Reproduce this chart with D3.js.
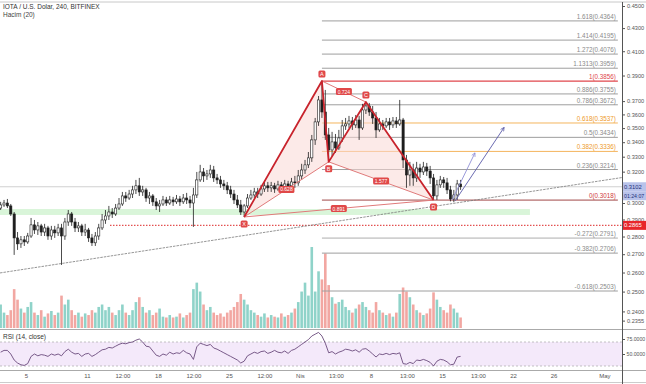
<!DOCTYPE html>
<html><head><meta charset="utf-8">
<script src="https://cdn.jsdelivr.net/npm/d3@7"></script>
<style>body{margin:0;background:#fff}svg{display:block;font-family:"Liberation Sans",Arial,sans-serif}</style>
</head><body><svg id="c" width="646" height="384"></svg>
<script>
// ---------- DATA ----------
const candleStart = "2019-03-02T12:00Z"; // 8h candles
const opens = [0.2969,0.2988,0.3000,0.2982,0.2933,0.2792,0.2758,0.2781,0.2769,0.2803,0.2868,0.2838,0.2862,0.2826,0.2850,0.2803,0.2838,0.2821,0.2850,0.2803,0.2885,0.2933,0.2885,0.2850,0.2862,0.2826,0.2838,0.2792,0.2764,0.2803,0.2850,0.2897,0.2921,0.2945,0.2933,0.2969,0.2994,0.3044,0.3031,0.3056,0.3082,0.3108,0.3069,0.3082,0.3031,0.3044,0.3007,0.2982,0.2994,0.3019,0.3000,0.3019,0.3007,0.3025,0.3007,0.3031,0.3019,0.3000,0.3050,0.3146,0.3198,0.3172,0.3185,0.3211,0.3159,0.3146,0.3120,0.3108,0.3082,0.3056,0.3019,0.2988,0.2945,0.2982,0.3031,0.3050,0.3069,0.3056,0.3088,0.3108,0.3095,0.3108,0.3088,0.3114,0.3095,0.3120,0.3108,0.3133,0.3127,0.3172,0.3211,0.3245,0.3292,0.3416,0.3545,0.3709,0.3618,0.3451,0.3346,0.3402,0.3360,0.3430,0.3516,0.3530,0.3552,0.3523,0.3559,0.3501,0.3633,0.3663,0.3618,0.3574,0.3487,0.3530,0.3516,0.3545,0.3523,0.3552,0.3530,0.3559,0.3278,0.3178,0.3211,0.3159,0.3224,0.3198,0.3231,0.3204,0.3159,0.3044,0.3114,0.3146,0.3127,0.3082,0.3025,0.3050,0.3120];
const highs = [0.3007,0.3019,0.3025,0.2994,0.2945,0.2826,0.2803,0.2803,0.2821,0.2909,0.2897,0.2885,0.2874,0.2874,0.2862,0.2862,0.2862,0.2874,0.2874,0.2909,0.2957,0.2945,0.2909,0.2885,0.2874,0.2874,0.2850,0.2815,0.2826,0.2874,0.2933,0.2957,0.2982,0.2969,0.2994,0.3031,0.3069,0.3069,0.3082,0.3108,0.3146,0.3159,0.3108,0.3095,0.3069,0.3056,0.3031,0.3019,0.3044,0.3038,0.3044,0.3038,0.3050,0.3044,0.3056,0.3063,0.3044,0.3095,0.3198,0.3245,0.3224,0.3211,0.3245,0.3238,0.3185,0.3172,0.3146,0.3133,0.3108,0.3082,0.3050,0.3019,0.2994,0.3056,0.3082,0.3095,0.3095,0.3114,0.3133,0.3133,0.3133,0.3127,0.3140,0.3133,0.3146,0.3140,0.3159,0.3172,0.3211,0.3252,0.3278,0.3332,0.3451,0.3574,0.3739,0.3841,0.3786,0.3501,0.3473,0.3458,0.3487,0.3559,0.3574,0.3589,0.3581,0.3596,0.3589,0.3679,0.3694,0.3686,0.3663,0.3618,0.3574,0.3559,0.3574,0.3574,0.3581,0.3581,0.3709,0.3574,0.3312,0.3265,0.3252,0.3265,0.3252,0.3265,0.3258,0.3238,0.3185,0.3146,0.3172,0.3165,0.3159,0.3108,0.3082,0.3146,0.3146];
const lows = [0.2957,0.2976,0.2969,0.2921,0.2696,0.2724,0.2735,0.2746,0.2758,0.2792,0.2815,0.2809,0.2803,0.2803,0.2781,0.2781,0.2792,0.2803,0.2641,0.2781,0.2862,0.2862,0.2826,0.2826,0.2803,0.2803,0.2769,0.2746,0.2746,0.2781,0.2838,0.2874,0.2897,0.2909,0.2921,0.2957,0.2982,0.3007,0.3019,0.3031,0.3056,0.3044,0.3044,0.3007,0.2994,0.2982,0.2957,0.2945,0.2982,0.2982,0.2988,0.2982,0.2994,0.2982,0.2994,0.2994,0.2969,0.2856,0.3031,0.3133,0.3133,0.3146,0.3159,0.3133,0.3120,0.3095,0.3082,0.3056,0.3031,0.2994,0.2969,0.2927,0.2915,0.2969,0.3019,0.3031,0.3031,0.3044,0.3069,0.3069,0.3069,0.3063,0.3076,0.3069,0.3082,0.3082,0.3095,0.3095,0.3108,0.3146,0.3185,0.3224,0.3265,0.3381,0.3516,0.3574,0.3416,0.3265,0.3305,0.3326,0.3346,0.3402,0.3487,0.3501,0.3487,0.3501,0.3416,0.3487,0.3603,0.3589,0.3530,0.3430,0.3473,0.3487,0.3501,0.3487,0.3501,0.3501,0.3516,0.3224,0.3095,0.3108,0.3108,0.3133,0.3159,0.3178,0.3172,0.3120,0.3018,0.3019,0.3095,0.3095,0.3056,0.3010,0.3005,0.3019,0.3082];
const closes = [0.2988,0.3000,0.2982,0.2933,0.2792,0.2758,0.2781,0.2769,0.2803,0.2868,0.2838,0.2862,0.2826,0.2850,0.2803,0.2838,0.2821,0.2850,0.2803,0.2885,0.2933,0.2885,0.2850,0.2862,0.2826,0.2838,0.2792,0.2764,0.2803,0.2850,0.2897,0.2921,0.2945,0.2933,0.2969,0.2994,0.3044,0.3031,0.3056,0.3082,0.3108,0.3069,0.3082,0.3031,0.3044,0.3007,0.2982,0.2994,0.3019,0.3000,0.3019,0.3007,0.3025,0.3007,0.3031,0.3019,0.3000,0.3050,0.3146,0.3198,0.3172,0.3185,0.3211,0.3159,0.3146,0.3120,0.3108,0.3082,0.3056,0.3019,0.2988,0.2945,0.2982,0.3031,0.3050,0.3069,0.3056,0.3088,0.3108,0.3095,0.3108,0.3088,0.3114,0.3095,0.3120,0.3108,0.3133,0.3127,0.3172,0.3211,0.3245,0.3292,0.3416,0.3545,0.3709,0.3618,0.3451,0.3346,0.3402,0.3360,0.3430,0.3516,0.3530,0.3552,0.3523,0.3559,0.3501,0.3633,0.3663,0.3618,0.3574,0.3487,0.3530,0.3516,0.3545,0.3523,0.3552,0.3530,0.3559,0.3278,0.3178,0.3211,0.3159,0.3224,0.3198,0.3231,0.3204,0.3159,0.3044,0.3114,0.3146,0.3127,0.3082,0.3025,0.3050,0.3120,0.3102];
const volumes = [29,19,16,22,48,35,24,19,26,32,19,16,22,14,18,21,16,19,40,29,35,22,16,19,14,18,16,22,19,26,29,22,26,19,16,22,29,19,16,22,32,38,26,19,22,16,19,24,14,13,16,13,14,18,13,16,19,48,56,45,29,22,26,19,16,18,14,19,22,26,32,42,35,29,22,19,16,14,18,13,16,14,13,18,14,16,19,24,32,45,56,40,100,45,70,60,92,53,38,30,32,35,26,22,19,24,29,32,26,22,19,32,22,19,16,18,14,19,42,50,45,38,29,22,19,16,18,24,44,35,26,22,19,29,24,19,13];
const rsi = [53,56,56,50,40,35,32,31,34,46,50,47,49,48,46,50,48,50,47,54,58,53,50,51,46,50,51,46,49,53,57,58,61,60,63,66,68,67,69,70,73,75,70,63,62,55,48,46,50,48,53,50,52,51,56,52,50,41,62,68,66,64,66,60,58,55,52,49,46,43,40,35,38,47,50,53,51,54,55,51,53,56,53,52,55,51,56,58,62,66,70,74,80,83,86,80,68,52,54,50,53,55,58,57,55,57,53,58,59,55,50,45,50,49,51,49,51,50,52,34,33,36,34,40,39,41,39,36,30,38,41,40,37,32,33,45,46];

const priceTicks = [0.45,0.43,0.41,0.39,0.37,0.36,0.35,0.34,0.33,0.32,0.30,0.29,0.28,0.27,0.26,0.25,0.24,0.2355];
const rsiTicks = [75,50];
const xTickDates = ["2019-03-05","2019-03-11","2019-03-14T12:00Z","2019-03-18","2019-03-21T12:00Z","2019-03-25","2019-03-28T12:00Z","2019-04-01","2019-04-04T13:00Z","2019-04-08","2019-04-11T13:00Z","2019-04-15","2019-04-18T13:00Z","2019-04-22","2019-04-26","2019-05-01"];
const xTickLabels = ["5","11","12:00","18","12:00","25","12:00","Nis","13:00","8","13:00","15","13:00","22","26","May"];

const patDates = ["2019-03-26T12:00Z","2019-04-03T04:00Z","2019-04-03T20:00Z","2019-04-07T12:00Z","2019-04-14T04:00Z"];
const patPrices = [0.2915,0.3856,0.3265,0.3693,0.3018];
const patLabels = ["X","A","B","C","D"];
const ratioLabels = ["0.628","0.724","1.577","0.891"]; // XB, AC, BD, XD

const fibLevels = [1.618,1.414,1.272,1.1313,1,0.886,0.786,0.618,0.5,0.382,0.236,0,-0.272,-0.382,-0.618];
const fibPrices = [0.4364,0.4195,0.4076,0.3959,0.3856,0.3755,0.3672,0.3537,0.3434,0.3336,0.3214,0.3018,0.2791,0.2706,0.2503];
const fibRange = ["2019-04-03T04:00Z","2019-05-02T08:00Z"];

const zoneDates = ["2019-02-28","2019-04-23T16:00Z"], zonePrices = [0.2963,0.2927];
const supportDate = "2019-03-13T07:00Z", supportPrice = 0.2865;
const trendDates = ["2019-03-11T00:00Z","2019-04-14T12:00Z"], trendPrices = [0.2670,0.2982];
const arrowFrom = [["2019-04-16T00:00Z",0.3019],["2019-04-16T07:00Z",0.3013]];
const arrowTo = [["2019-04-18T06:00Z",0.3326],["2019-04-21T03:00Z",0.3505]];
const lastPrice = 0.3102, countdown = "01:24:07";

// ---------- SETUP ----------
const svg = d3.select("#c");
const AX = 622, MAIN_B = 329, RSI_T = 330, RSI_B = 369;
const x = d3.scaleUtc().domain([new Date("2019-03-02T10:30Z"), new Date("2019-05-02T17:48Z")]).range([0, AX]);
const y = d3.scaleLog().domain([0.45, 0.30]).range([6, 203]);
const yv = d3.scaleLinear().domain([0, 100]).range([328, 247]);
const yr = d3.scaleLinear().domain([25, 90]).range([RSI_B, RSI_T]);
const t0 = new Date(candleStart).getTime();
const candles = closes.map((c, i) => ({t: new Date(t0 + i * 8 * 3600e3), o: opens[i], h: highs[i], l: lows[i], c, v: volumes[i], r: rsi[i]}));
const D = s => new Date(s);

svg.append("defs").html(`<clipPath id="mc"><rect x="0" y="3" width="${AX}" height="${MAIN_B-3}"/></clipPath>
<clipPath id="rc"><rect x="0" y="${RSI_T}" width="${AX}" height="${RSI_B-RSI_T}"/></clipPath>
<marker id="ah1" viewBox="0 0 10 10" refX="9" refY="5" markerWidth="5" markerHeight="5" orient="auto"><path d="M1,1L9,5L1,9" fill="none" stroke="#8f8fd6" stroke-width="1.6"/></marker>
<marker id="ah2" viewBox="0 0 10 10" refX="9" refY="5" markerWidth="5" markerHeight="5" orient="auto"><path d="M1,1L9,5L1,9" fill="none" stroke="#5a5aa8" stroke-width="1.6"/></marker>`);

// frame lines
svg.append("line").attr("x1",0).attr("x2",646).attr("y1",2).attr("y2",2).attr("stroke","#c8c8c8");
svg.append("line").attr("x1",0).attr("x2",646).attr("y1",MAIN_B+0.5).attr("y2",MAIN_B+0.5).attr("stroke","#aaa");
svg.append("line").attr("x1",0).attr("x2",646).attr("y1",RSI_B+1.5).attr("y2",RSI_B+1.5).attr("stroke","#aaa");
svg.append("line").attr("x1",0).attr("x2",646).attr("y1",382.5).attr("y2",382.5).attr("stroke","#ccc");
svg.append("line").attr("x1",AX+0.5).attr("x2",AX+0.5).attr("y1",2).attr("y2",384).attr("stroke","#555");

const g = svg.append("g").attr("clip-path","url(#mc)");

// green zone
g.append("rect").attr("x", x(D(zoneDates[0]))).attr("width", x(D(zoneDates[1])) - x(D(zoneDates[0])))
  .attr("y", y(zonePrices[0])).attr("height", y(zonePrices[1]) - y(zonePrices[0])).attr("fill","#d9f5d9");

// last price line
g.append("line").attr("x1",0).attr("x2",AX).attr("y1",y(lastPrice)).attr("y2",y(lastPrice)).attr("stroke","#c4c4c4").attr("stroke-width",0.8);

// volume
g.selectAll(".vol").data(candles).join("rect").attr("class","vol")
  .attr("x", d => x(d.t) - 1.3).attr("width", 2.6)
  .attr("y", d => yv(d.v)).attr("height", d => yv(0) - yv(d.v))
  .attr("fill", d => d.c >= d.o ? "#8fd3c9" : "#f2a7a2");

// fib
const fx1 = x(D(fibRange[0])), fx2 = x(D(fibRange[1]));
fibLevels.forEach((lv, i) => {
  const yy = y(fibPrices[i]);
  let col = "#9e9e9e", tc = "#8a8a8a", sw = 1;
  if (lv === 1) { col = "#e0474c"; tc = "#e0474c"; sw = 1.3; }
  else if (lv === 0) { col = "#a04848"; tc = "#d04040"; }
  else if (lv === 0.618 || lv === 0.382) { col = "#f4b55e"; tc = "#ee9a2a"; }
  else if (lv === -0.272) { col = "#d0d0d0"; sw = 1.6; }
  g.append("line").attr("x1",fx1).attr("x2",fx2).attr("y1",yy).attr("y2",yy).attr("stroke",col).attr("stroke-width",sw);
  g.append("text").attr("x",fx2-2).attr("y",yy-2).attr("text-anchor","end").attr("font-size",6.3).attr("fill",tc)
    .text(`${lv}(${fibPrices[i].toFixed(4)})`);
});

// support dotted
g.append("line").attr("x1",x(D(supportDate))).attr("x2",AX).attr("y1",y(supportPrice)).attr("y2",y(supportPrice))
  .attr("stroke","#e03a3a").attr("stroke-width",1.3).attr("stroke-dasharray","1.3,1.7");

// trend line
{
  const px1 = x(D(trendDates[0])), py1 = y(trendPrices[0]), px2 = x(D(trendDates[1])), py2 = y(trendPrices[1]);
  const m = (py2 - py1) / (px2 - px1);
  g.append("line").attr("x1",0).attr("y1",py1 - m*px1).attr("x2",AX).attr("y2",py1 + m*(AX-px1))
    .attr("stroke","#7a7a7a").attr("stroke-width",0.8).attr("stroke-dasharray","2.5,1");
}

// harmonic pattern
const P = patDates.map((d, i) => [x(D(d)), y(patPrices[i])]);
g.append("path").attr("d", `M${P[0]}L${P[1]}L${P[2]}Z`).attr("fill","#f9d9d6").attr("fill-opacity",0.55);
g.append("path").attr("d", `M${P[2]}L${P[3]}L${P[4]}Z`).attr("fill","#f9d9d6").attr("fill-opacity",0.55);

// candles
const cg = g.append("g");
candles.forEach(d => {
  const cx = x(d.t);
  cg.append("line").attr("x1",cx).attr("x2",cx).attr("y1",y(d.h)).attr("y2",y(d.l)).attr("stroke","#1e1e1e").attr("stroke-width",0.8);
  const top = y(Math.max(d.o,d.c)), bot = y(Math.min(d.o,d.c));
  const up = d.c >= d.o;
  cg.append("rect").attr("x",cx-1.1).attr("width",2.2).attr("y",top).attr("height",Math.max(0.8,bot-top))
    .attr("fill", up ? "#fff" : "#1e1e1e").attr("stroke","#1e1e1e").attr("stroke-width",0.6);
});

// pattern lines
[[0,2],[1,3],[2,4],[0,4]].forEach(([a,b]) =>
  g.append("line").attr("x1",P[a][0]).attr("y1",P[a][1]).attr("x2",P[b][0]).attr("y2",P[b][1]).attr("stroke","#e07a7a").attr("stroke-width",1));
g.append("path").attr("d", `M${P[0]}L${P[1]}L${P[2]}L${P[3]}L${P[4]}`).attr("fill","none").attr("stroke","#c8232c").attr("stroke-width",1.8).attr("stroke-linejoin","round");

// ratio labels
[[0,2],[1,3],[2,4],[0,4]].forEach(([a,b],i) => {
  const mx = (P[a][0]+P[b][0])/2, my = (P[a][1]+P[b][1])/2;
  g.append("rect").attr("x",mx-8).attr("y",my-3.5).attr("width",16).attr("height",7).attr("rx",1.5).attr("fill","#e04848");
  g.append("text").attr("x",mx).attr("y",my+2).attr("text-anchor","middle").attr("font-size",5).attr("fill","#fff").text(ratioLabels[i]);
});
// point labels
P.forEach((p, i) => {
  const above = (i === 1 || i === 3);
  const ly = above ? p[1] - 7 : p[1] + 7;
  g.append("rect").attr("x",p[0]-3.5).attr("y",ly-3.5).attr("width",7).attr("height",7).attr("rx",1.5).attr("fill","#e04848");
  g.append("text").attr("x",p[0]).attr("y",ly+2).attr("text-anchor","middle").attr("font-size",5.5).attr("fill","#fff").text(patLabels[i]);
});

// arrows
arrowFrom.forEach((a, i) => {
  g.append("line").attr("x1",x(D(a[0]))).attr("y1",y(a[1])).attr("x2",x(D(arrowTo[i][0]))).attr("y2",y(arrowTo[i][1]))
    .attr("stroke", i === 0 ? "#8f8fd6" : "#5a5aa8").attr("stroke-width",0.9).attr("marker-end", `url(#ah${i+1})`);
});

// titles
svg.append("text").attr("x",3).attr("y",9).attr("font-size",6.5).attr("fill","#333").text("IOTA / U.S. Dolar, 240, BITFINEX");
svg.append("text").attr("x",3).attr("y",17).attr("font-size",6.5).attr("fill","#444").text("Hacim (20)");

// price axis
const pa = svg.append("g").attr("transform",`translate(${AX},0)`)
  .call(d3.axisRight(y).tickValues(priceTicks).tickFormat(d3.format(".4f")).tickSize(3).tickPadding(2));
pa.select(".domain").remove();
pa.selectAll("text").attr("font-size",5.6).attr("fill","#555").attr("font-family","Liberation Sans, Arial");
pa.selectAll("line").attr("stroke","#555");

// price labels on axis
function axisLabel(yy, txt, bg, fg, fs) {
  svg.append("rect").attr("x",AX+1).attr("y",yy-4.5).attr("width",23).attr("height",9).attr("fill",bg);
  svg.append("text").attr("x",AX+2).attr("y",yy+2).attr("font-size",fs).attr("fill",fg).text(txt);
}
axisLabel(y(lastPrice), lastPrice.toFixed(4), "#b9c3ea", "#23307a", 5.8);
axisLabel(y(lastPrice)+9, countdown, "#b9c3ea", "#23307a", 5.2);
axisLabel(y(supportPrice), supportPrice.toFixed(4), "#e8262b", "#fff", 5.8);

// RSI panel
svg.append("rect").attr("x",0).attr("width",AX).attr("y",yr(70)).attr("height",yr(30)-yr(70)).attr("fill","#f4e9fa");
[70,30].forEach(v => svg.append("line").attr("x1",0).attr("x2",AX).attr("y1",yr(v)).attr("y2",yr(v))
  .attr("stroke","#aaa").attr("stroke-width",0.7).attr("stroke-dasharray","2,2"));
svg.append("path").datum(candles).attr("clip-path","url(#rc)")
  .attr("d", d3.line().x(d => x(d.t)).y(d => yr(d.r))).attr("fill","none").attr("stroke","#6a4a7c").attr("stroke-width",0.9);
svg.append("text").attr("x",3).attr("y",339).attr("font-size",6.5).attr("fill","#333").text("RSI (14, close)");
const ra = svg.append("g").attr("transform",`translate(${AX},0)`)
  .call(d3.axisRight(yr).tickValues(rsiTicks).tickFormat(d3.format(".4f")).tickSize(3).tickPadding(1.5));
ra.select(".domain").remove();
ra.selectAll("text").attr("font-size",5.2).attr("fill","#555");
ra.selectAll("line").attr("stroke","#555");

// time axis
const xa = svg.append("g").attr("transform",`translate(0,${RSI_B+2})`)
  .call(d3.axisBottom(x).tickValues(xTickDates.map(D)).tickFormat((d,i) => xTickLabels[i]).tickSize(0).tickPadding(3));
xa.select(".domain").remove();
xa.selectAll("text").attr("font-size",6).attr("fill","#555");
</script></body></html>
